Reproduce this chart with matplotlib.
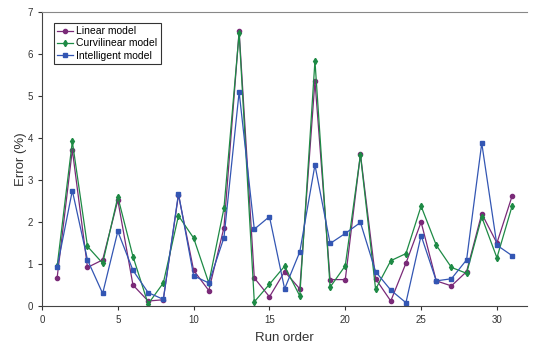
import matplotlib
matplotlib.use('Agg')
import matplotlib.pyplot as plt

plt.rcParams['font.family'] = ['Liberation Sans', 'DejaVu Sans']

run = list(range(1, 32))
linear = [0.68, 3.72, 0.92, 1.1, 2.52, 0.5, 0.12, 0.15, 2.65, 0.85, 0.37,
          1.87, 6.55, 0.67, 0.22, 0.82, 0.41, 5.36, 0.63, 0.63, 3.62, 0.65,
          0.12, 1.02, 2.0, 0.6, 0.48, 0.82, 2.2, 1.5, 2.62]
curvilinear = [0.95, 3.92, 1.42, 1.02, 2.6, 1.18, 0.05, 0.55, 2.15, 1.62, 0.55,
               2.33, 6.5, 0.1, 0.52, 0.95, 0.24, 5.84, 0.45, 0.96, 3.6, 0.4,
               1.08, 1.25, 2.38, 1.45, 0.92, 0.78, 2.12, 1.15, 2.38]
intelligent = [0.92, 2.75, 1.1, 0.3, 1.78, 0.85, 0.32, 0.16, 2.68, 0.72, 0.55,
               1.63, 5.1, 1.83, 2.13, 0.41, 1.29, 3.36, 1.49, 1.73, 1.99, 0.82,
               0.38, 0.08, 1.68, 0.6, 0.65, 1.1, 3.88, 1.45, 1.2]

fig = plt.figure(figsize=(5.35, 3.47), dpi=100)
ax = fig.add_axes([0.0785, 0.118, 0.907, 0.847])

ax.plot(run, linear, color='#7a2a78', marker='o', markersize=3, lw=0.9,
        label='Linear model')
ax.plot(run, curvilinear, color='#1e8a45', marker='d', markersize=3.2, lw=0.9,
        label='Curvilinear model')
ax.plot(run, intelligent, color='#3356b3', marker='s', markersize=3.5, lw=0.9,
        label='Intelligent model')

ax.set_xlim(0, 32)
ax.set_ylim(0, 7)
ax.set_xticks([0, 5, 10, 15, 20, 25, 30])
ax.set_yticks(range(8))
ax.tick_params(labelsize=7, direction='out', length=3, width=0.8, colors='#333333')
ax.set_xlabel('Run order', fontsize=9.5, color='#333333', labelpad=5)
ax.set_ylabel('Error (%)', fontsize=9.5, color='#333333', labelpad=0)

ax.spines['right'].set_visible(False)
ax.spines['top'].set_color('#888888')
for s in ('left', 'bottom'):
    ax.spines[s].set_color('#444444')

leg = ax.legend(loc='upper left', bbox_to_anchor=(0.013, 0.98), fontsize=7.5,
                frameon=True, fancybox=False, borderpad=0.3, labelspacing=0.2,
                handlelength=1.6, handletextpad=0.3)
leg.get_frame().set_edgecolor('black')
leg.get_frame().set_linewidth(0.8)

fig.savefig('out.png', dpi=100)
